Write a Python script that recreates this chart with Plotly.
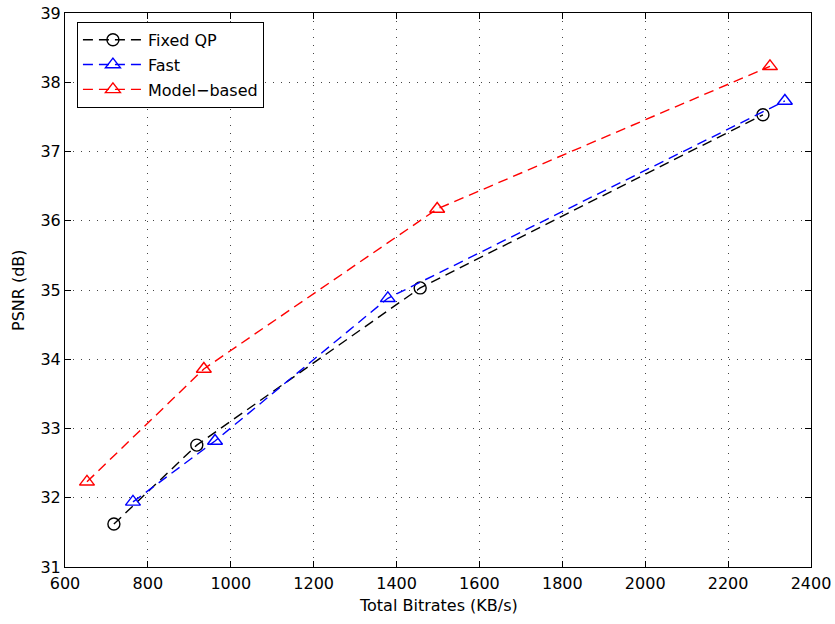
import plotly.graph_objects as go

fixed_x = [718, 918, 1457, 2284]
fixed_y = [31.62, 32.76, 35.03, 37.53]
fast_x = [764, 962, 1379, 2337]
fast_y = [31.94, 32.82, 34.88, 37.73]
model_x = [653, 935, 1498, 2301]
model_y = [32.23, 33.86, 36.17, 38.23]

x_ticks = [600, 800, 1000, 1200, 1400, 1600, 1800, 2000, 2200, 2400]
y_ticks = [31, 32, 33, 34, 35, 36, 37, 38, 39]
x_title = "Total Bitrates (KB/s)"
y_title = "PSNR (dB)"

FONT = "DejaVu Sans, Liberation Sans, Arial"

fig = go.Figure()
series = [
    ("Fixed QP", fixed_x, fixed_y, "black", "circle-open", 12),
    ("Fast", fast_x, fast_y, "blue", "triangle-up-open", 13),
    ("Model\u2212based", model_x, model_y, "red", "triangle-up-open", 13),
]
for i, (name, xs, ys, col, sym, sz) in enumerate(series):
    fig.add_trace(go.Scatter(
        x=xs, y=ys, name=name, mode="lines+markers", legendgroup=f"g{i}",
        line=dict(color=col, width=1.4, dash="10px,6px"),
        marker=dict(symbol=sym, size=sz, color=col, line=dict(color=col, width=1.4)),
    ))

axis_common = dict(
    showline=True, linecolor="black", linewidth=1, mirror="ticks",
    ticks="inside", ticklen=6, tickcolor="black",
    showgrid=True, gridcolor="#444444", griddash="1px,7px", gridwidth=1,
    zeroline=False, automargin=False,
    tickfont=dict(family=FONT, size=16, color="black"),
)
fig.update_xaxes(range=[600, 2400], tickvals=x_ticks, ticklabelstandoff=2, **axis_common)
fig.update_yaxes(range=[31, 39], tickvals=y_ticks, **axis_common)

fig.add_annotation(text=x_title, xref="paper", yref="paper", x=0.5, y=0,
                   xanchor="center", yanchor="middle", yshift=-38, showarrow=False,
                   font=dict(family=FONT, size=16, color="black"))
fig.add_annotation(text=y_title, xref="paper", yref="paper", x=0, y=0.5,
                   xanchor="center", yanchor="middle", xshift=-47, textangle=-90,
                   showarrow=False, font=dict(family=FONT, size=16, color="black"))

fig.update_layout(
    width=835, height=624,
    margin=dict(l=65, r=24, t=13, b=57),
    plot_bgcolor="white", paper_bgcolor="white",
    font=dict(family=FONT, size=16, color="black"),
    legend=dict(x=0.016, y=0.984, xanchor="left", yanchor="top",
                bgcolor="white", bordercolor="black", borderwidth=1,
                font=dict(family=FONT, size=16), itemwidth=60,
                traceorder="grouped", tracegroupgap=1),
    showlegend=True,
)

fig.write_html("out.html")
